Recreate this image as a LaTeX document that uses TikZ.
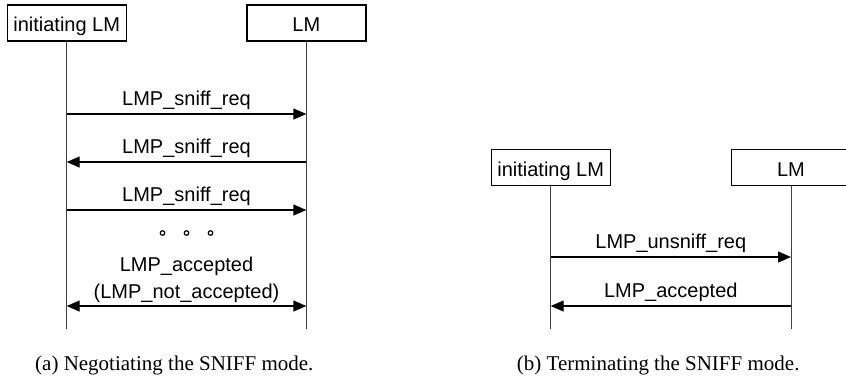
\documentclass[tikz,border=0pt]{standalone}
\usepackage{fontspec}
\setmainfont{Liberation Serif}
\newfontfamily\msgfont{Liberation Sans}
\usetikzlibrary{arrows.meta}

\tikzset{
  entity/.style={draw, line width=1.4pt, minimum width=119pt, minimum height=36pt,
    inner sep=0pt, text height=17pt, text depth=0pt, font=\msgfont\fontsize{20}{24}\selectfont},
  lifeline/.style={line width=0.8pt, draw=black!75},
  msg/.style={line width=1.4pt, -{Triangle[length=13pt,width=11pt]}},
  msgboth/.style={line width=1.4pt, {Triangle[length=13pt,width=11pt]}-{Triangle[length=13pt,width=11pt]}},
  msglabel/.style={anchor=base, inner sep=0pt, font=\msgfont\fontsize{20}{24}\selectfont},
  caption/.style={anchor=base west, inner sep=0pt, font=\fontsize{21}{25}\selectfont},
  dotmark/.style={draw, line width=1.2pt, circle, minimum size=4.6pt, inner sep=0pt}
}

\begin{document}
\begin{tikzpicture}[x=1pt, y=-1pt]
  \useasboundingbox (0,0) rectangle (846,376);
  \clip (0,0) rectangle (846,376);

  % (a) negotiating the sniff mode
  \node[entity] (iA) at (66.7,23) {initiating LM};
  \node[entity] (lA) at (306.3,23) {LM};
  \coordinate (iAend) at (66.7,329);
  \coordinate (lAend) at (306.3,329);
  \draw[lifeline] (iA.south) -- (iAend);
  \draw[lifeline] (lA.south) -- (lAend);

  \draw[msg] (iA |- 0,114) -- (lA |- 0,114);
  \node[msglabel] (mA1) at (186.5,105) {LMP\_sniff\_req};
  \draw[msg] (lA |- 0,162) -- (iA |- 0,162);
  \node[msglabel] (mA2) at (186.5,153.5) {LMP\_sniff\_req};
  \draw[msg] (iA |- 0,210) -- (lA |- 0,210);
  \node[msglabel] (mA3) at (186.5,201.5) {LMP\_sniff\_req};

  \node[dotmark] (d1) at (162.5,233) {};
  \node[dotmark] (d2) at (186.5,233) {};
  \node[dotmark] (d3) at (210.5,233) {};

  \node[msglabel] (mA4) at (186.5,271.5) {LMP\_accepted};
  \node[msglabel] (mA5) at (186.5,298.5) {(LMP\_not\_accepted)};
  \draw[msgboth] (iA |- 0,306) -- (lA |- 0,306);

  \node[caption] (capA) at (35,370) {(a)\hspace{0.25em}Negotiating the SNIFF mode.};

  % (b) terminating the sniff mode
  \node[entity] (iB) at (550.7,167.5) {initiating LM};
  \node[entity] (lB) at (791,167.5) {LM};
  \coordinate (iBend) at (550.7,329);
  \coordinate (lBend) at (791,329);
  \draw[lifeline] (iB.south) -- (iBend);
  \draw[lifeline] (lB.south) -- (lBend);

  \draw[msg] (iB |- 0,257) -- (lB |- 0,257);
  \node[msglabel] (mB1) at (670.8,248.5) {LMP\_unsniff\_req};
  \draw[msg] (lB |- 0,306) -- (iB |- 0,306);
  \node[msglabel] (mB2) at (670.8,297) {LMP\_accepted};

  \node[caption] (capB) at (516.7,370) {(b)\hspace{0.25em}Terminating the SNIFF mode.};
\end{tikzpicture}
\end{document}
